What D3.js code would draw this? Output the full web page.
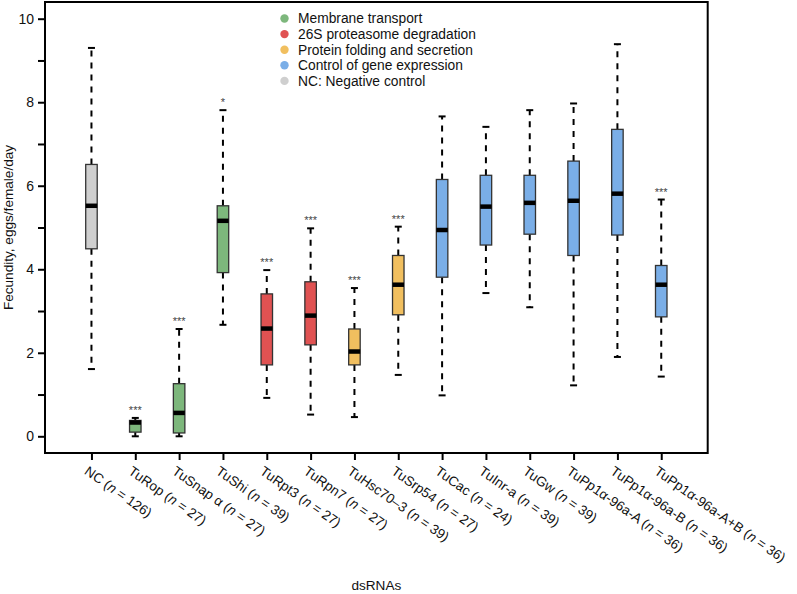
<!DOCTYPE html>
<html><head><meta charset="utf-8">
<script src="https://cdn.jsdelivr.net/npm/d3@7"></script>
<style>body{margin:0;background:#fff}</style>
</head><body>
<svg id="c" width="797" height="594"></svg>
<script>
const categories = ["NC","TuRop","TuSnap α","TuShi","TuRpt3","TuRpn7","TuHsc70\u20133","TuSrp54","TuCac","TuInr-a","TuGw","TuPp1α-96a-A","TuPp1α-96a-B","TuPp1α-96a-A+B"];
const nValues = [126,27,27,39,27,27,39,27,24,39,39,36,36,36];
const groups = ["NC","MT","MT","MT","PD","PD","PF","PF","GE","GE","GE","GE","GE","GE"];
const whiskerLow  = [1.61,0.00,0.00,2.67,0.92,0.52,0.46,1.47,0.98,3.43,3.09,1.22,1.90,1.43];
const q1          = [4.49,0.10,0.08,3.92,1.71,2.19,1.71,2.91,3.81,4.58,4.84,4.33,4.82,2.86];
const medians     = [5.52,0.33,0.56,5.16,2.58,2.89,2.03,3.63,4.94,5.50,5.59,5.64,5.81,3.63];
const q3          = [6.51,0.38,1.26,5.52,3.41,3.70,2.57,4.33,6.15,6.25,6.25,6.59,7.35,4.09];
const whiskerHigh = [9.30,0.44,2.57,7.81,3.98,4.98,3.55,5.02,7.66,7.41,7.81,7.97,9.39,5.67];
const signif      = ["","***","***","*","***","***","***","***","","","","","","***"];
const legendLabels = ["Membrane transport","26S proteasome degradation","Protein folding and secretion","Control of gene expression","NC: Negative control"];
const legendGroups = ["MT","PD","PF","GE","NC"];
const yTicks = [0,2,4,6,8,10];
const yMinor = [1,3,5,7,9];

const colors = {MT:"#7db77c", PD:"#e05252", PF:"#f1bf5f", GE:"#7aaee7", NC:"#cfcfcf"};
const svg = d3.select("#c");
const L=45, R=707.7, T=2, B=453;
const font = "Liberation Sans, Arial, Helvetica, sans-serif";

const x = d3.scaleLinear().domain([-0.06, 15.06]).range([L,R]);
const y = d3.scaleLinear().domain([-0.4, 10.4]).range([B,T]);

// y axis
const yAxis = d3.axisLeft(y).tickValues(yTicks).tickSize(7).tickPadding(4).tickFormat(d3.format("d"));
const gy = svg.append("g").attr("transform",`translate(${L},0)`).call(yAxis);
gy.select(".domain").remove();
gy.selectAll("line").attr("stroke","#000").attr("stroke-width",2);
gy.selectAll("text").attr("font-family",font).attr("font-size",14).attr("fill","#111");
const gym = svg.append("g").attr("transform",`translate(${L},0)`).call(d3.axisLeft(y).tickValues(yMinor).tickSize(7).tickFormat(""));
gym.select(".domain").remove();
gym.selectAll("line").attr("stroke","#000").attr("stroke-width",2);

// x axis
const xAxis = d3.axisBottom(x).tickValues(d3.range(1,15)).tickSize(7).tickFormat("");
const gx = svg.append("g").attr("transform",`translate(0,${B})`).call(xAxis);
gx.select(".domain").remove();
gx.selectAll("line").attr("stroke","#000").attr("stroke-width",2);

// frame
svg.append("rect").attr("x",L).attr("y",T).attr("width",R-L).attr("height",B-T)
  .attr("fill","none").attr("stroke","#000").attr("stroke-width",2);

// x labels
categories.forEach((c,i)=>{
  const t = svg.append("text")
    .attr("transform",`translate(${x(i+1)-2},${B+12}) rotate(35)`)
    .attr("dy","0.75em")
    .attr("font-family",font).attr("font-size",13.6).attr("fill","#111");
  t.append("tspan").text(c+" (");
  t.append("tspan").attr("font-style","italic").text("n");
  t.append("tspan").text(" = "+nValues[i]+")");
});

// boxes
const bw = 11.5, capw = 7;
categories.forEach((c,i)=>{
  const cx = x(i+1);
  const g = svg.append("g");
  g.append("line").attr("x1",cx).attr("x2",cx).attr("y1",y(q3[i])).attr("y2",y(whiskerHigh[i]))
    .attr("stroke","#000").attr("stroke-width",2).attr("stroke-dasharray","6,6");
  g.append("line").attr("x1",cx).attr("x2",cx).attr("y1",y(q1[i])).attr("y2",y(whiskerLow[i]))
    .attr("stroke","#000").attr("stroke-width",2).attr("stroke-dasharray","6,6");
  [whiskerHigh[i], whiskerLow[i]].forEach(v=>{
    g.append("line").attr("x1",cx-capw/2).attr("x2",cx+capw/2).attr("y1",y(v)).attr("y2",y(v))
      .attr("stroke","#000").attr("stroke-width",2);
  });
  g.append("rect").attr("x",cx-bw/2).attr("width",bw).attr("y",y(q3[i])).attr("height",y(q1[i])-y(q3[i]))
    .attr("fill",colors[groups[i]]).attr("stroke","#333").attr("stroke-width",1.3);
  g.append("line").attr("x1",cx-bw/2).attr("x2",cx+bw/2).attr("y1",y(medians[i])).attr("y2",y(medians[i]))
    .attr("stroke","#000").attr("stroke-width",4.5);
  if (signif[i]) {
    g.append("text").attr("x",cx).attr("y",y(whiskerHigh[i])-4).attr("text-anchor","middle")
      .attr("font-family",font).attr("font-size",11).attr("fill","#444").text(signif[i]);
  }
});

// legend
legendLabels.forEach((l,i)=>{
  const yy = 18.5 + i*15.6;
  svg.append("circle").attr("cx",284.5).attr("cy",yy).attr("r",4.2).attr("fill",colors[legendGroups[i]]);
  svg.append("text").attr("x",298).attr("y",yy).attr("dy","0.35em")
    .attr("font-family",font).attr("font-size",13.8).attr("fill","#111").text(l);
});

// axis titles
svg.append("text").attr("transform",`translate(13,${(T+B)/2}) rotate(-90)`).attr("text-anchor","middle")
  .attr("font-family",font).attr("font-size",13.6).attr("fill","#111").text("Fecundity, eggs/female/day");
svg.append("text").attr("x",(L+R)/2).attr("y",590).attr("text-anchor","middle")
  .attr("font-family",font).attr("font-size",13.6).attr("fill","#111").text("dsRNAs");
</script>
</body></html>
